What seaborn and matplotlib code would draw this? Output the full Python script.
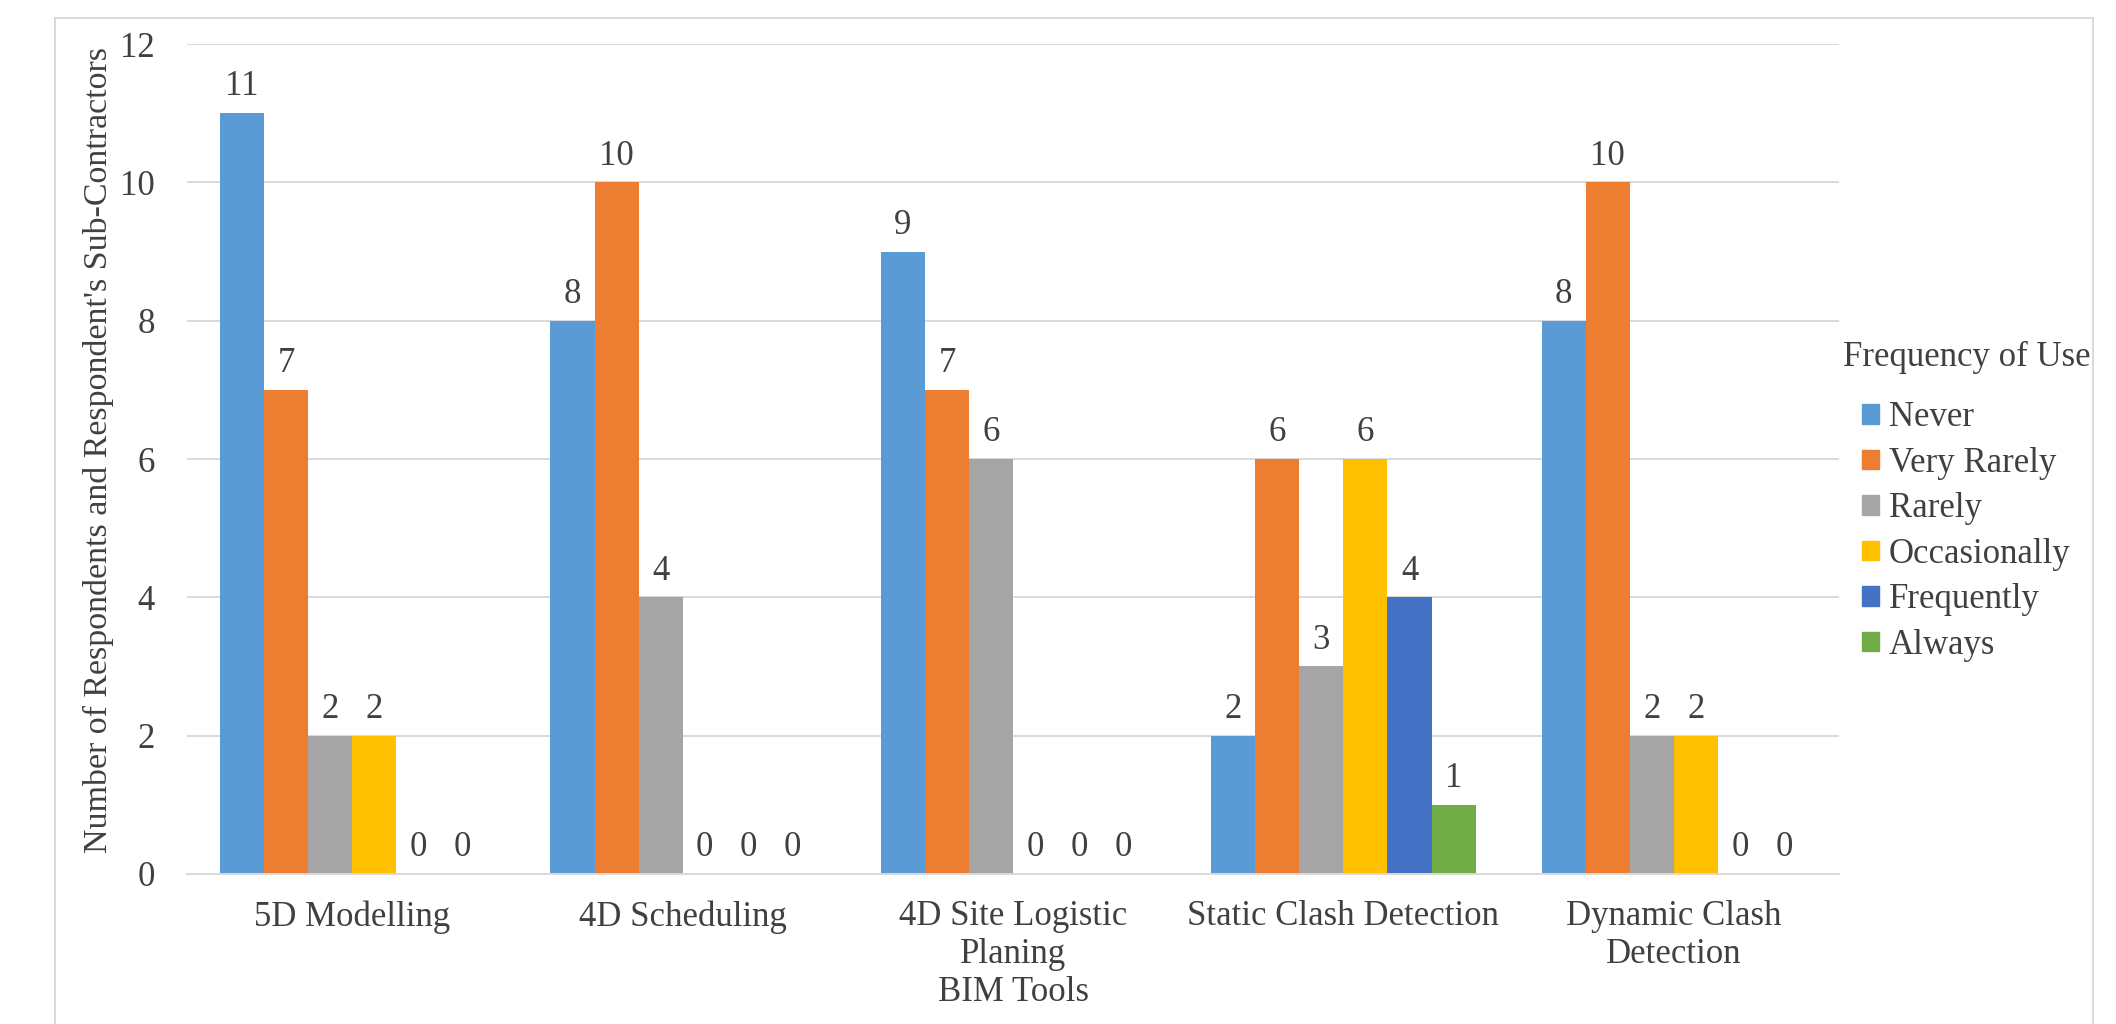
import matplotlib
matplotlib.use("Agg")
import matplotlib.pyplot as plt
from matplotlib.patches import Rectangle
import pandas as pd
import seaborn as sns

# Survey results: how often each BIM tool is used
tools = ["5D Modelling", "4D Scheduling", "4D Site Logistic\nPlaning",
         "Static Clash Detection", "Dynamic Clash\nDetection"]
frequencies = ["Never", "Very Rarely", "Rarely", "Occasionally", "Frequently", "Always"]
never = [11, 8, 9, 2, 8]
very_rarely = [7, 10, 7, 6, 10]
rarely = [2, 4, 6, 3, 2]
occasionally = [2, 0, 0, 6, 2]
frequently = [0, 0, 0, 4, 0]
always = [0, 0, 0, 1, 0]
y_ticks = [0, 2, 4, 6, 8, 10, 12]

colors = ["#5B9BD5", "#ED7D31", "#A5A5A5", "#FFC000", "#4472C4", "#70AD47"]
text_color = "#404040"
grid_color = "#D9D9D9"

series = [never, very_rarely, rarely, occasionally, frequently, always]
rows = []
for freq, vals in zip(frequencies, series):
    for tool, v in zip(tools, vals):
        rows.append({"BIM Tools": tool, "Frequency of Use": freq, "Count": v})
df = pd.DataFrame(rows)

sns.set_theme(style="white")
plt.rcParams["font.family"] = ["Liberation Serif", "DejaVu Serif"]

fig = plt.figure(figsize=(21.16, 10.24), dpi=100)
ax = fig.add_axes([0.0884, 0.1465, 0.7807, 0.8105])

sns.barplot(data=df, x="BIM Tools", y="Count", hue="Frequency of Use",
            order=tools, hue_order=frequencies, palette=colors,
            saturation=1, width=0.8, linewidth=0, errorbar=None, ax=ax)

for container in ax.containers:
    ax.bar_label(container, fmt="%d", padding=7, fontsize=25, color=text_color)

ax.set_ylim(0, 12)
ax.set_yticks(y_ticks)
ax.set_xlim(-0.5, len(tools) - 0.5)
ax.grid(axis="y", color=grid_color, linewidth=1.4)
ax.set_axisbelow(True)
for side in ["left", "right", "top"]:
    ax.spines[side].set_visible(False)
ax.spines["bottom"].set_color(grid_color)
ax.spines["bottom"].set_linewidth(1.4)

ax.tick_params(axis="both", length=0, labelsize=25, labelcolor=text_color)
ax.tick_params(axis="x", pad=19)
ax.tick_params(axis="y", pad=23)
ax.set_xlabel("BIM Tools", fontsize=25, color=text_color, labelpad=3)
ax.set_ylabel("Number of Respondents and Respondent's Sub-Contractors",
              fontsize=24.5, color=text_color)
ax.yaxis.set_label_coords(-0.044, 0.511)

ax.legend_.remove()
handles = [Rectangle((0, 0), 1, 1, color=c) for c in colors]
leg = fig.legend(handles, frequencies, title="Frequency of Use",
                 loc="upper left", bbox_to_anchor=(0.856, 0.698),
                 bbox_transform=fig.transFigure, frameon=False,
                 fontsize=25, title_fontsize=25, handlelength=0.5,
                 handleheight=0.5, handletextpad=0.27, labelspacing=0.36,
                 alignment="center")
for t in leg.get_texts():
    t.set_color(text_color)
leg.get_title().set_color(text_color)
leg._legend_box.sep = 20

# Light chart-area border
fig.patches.append(Rectangle((0.026, -0.1), 0.963, 1.0824, transform=fig.transFigure,
                             fill=False, edgecolor=grid_color, linewidth=1.4))

fig.savefig("out.png", dpi=100)
